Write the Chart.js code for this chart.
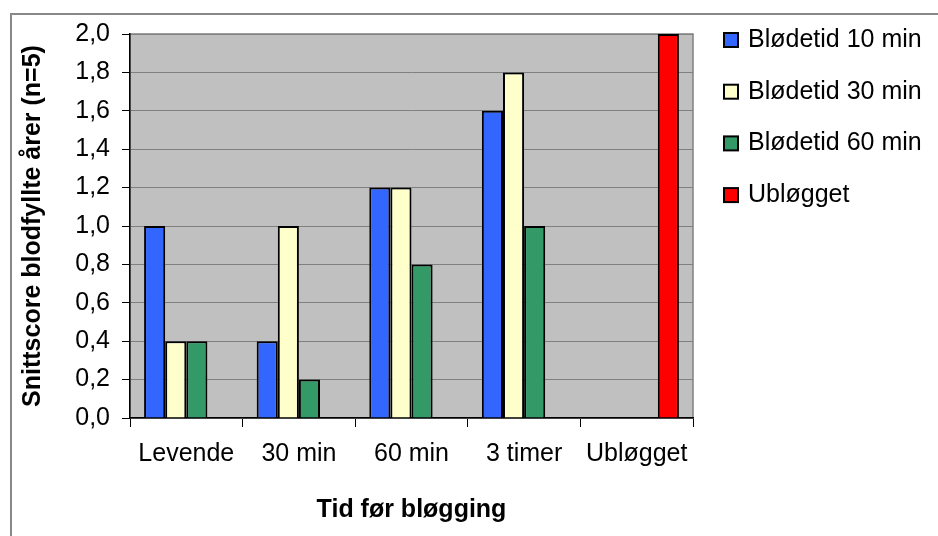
<!DOCTYPE html>
<html>
<head>
<meta charset="utf-8">
<script src="https://cdn.jsdelivr.net/npm/chart.js@4.4.1/dist/chart.umd.min.js"></script>
<style>
  body { margin: 0; background: #ffffff; }
  #wrap { width: 938px; height: 536px; }
</style>
</head>
<body>
<div id="wrap"><canvas id="score-chart" width="938" height="536"></canvas></div>
<script>
// Categories and series values
const categories = ['Levende', '30 min', '60 min', '3 timer', 'Ubløgget'];
const seriesNames = ['Blødetid 10 min', 'Blødetid 30 min', 'Blødetid 60 min', 'Ubløgget'];
const bleed10 = [1.0, 0.4, 1.2, 1.6, null];
const bleed30 = [0.4, 1.0, 1.2, 1.8, null];
const bleed60 = [0.4, 0.2, 0.8, 1.0, null];
const unbled = [null, null, null, null, 2.0];
const seriesColors = ['#3366FF', '#FFFFCC', '#339966', '#FF0000'];
const yMin = 0;
const yMax = 2;
const yStep = 0.2;

const FONT = '"Liberation Sans", Arial, sans-serif';

// Gray plot background, plot frame and the outer chart border
const backdrop = {
  id: 'backdrop',
  beforeDraw(chart) {
    const { ctx, chartArea: a } = chart;
    ctx.save();
    ctx.strokeStyle = '#888888';
    ctx.lineWidth = 2;
    ctx.beginPath();
    ctx.moveTo(11, 540);
    ctx.lineTo(11, 14);
    ctx.lineTo(940, 14);
    ctx.stroke();

    ctx.fillStyle = '#C0C0C0';
    ctx.fillRect(a.left, a.top, a.right - a.left, a.bottom - a.top);
    ctx.strokeStyle = '#808080';
    ctx.lineWidth = 1.5;
    ctx.strokeRect(a.left, a.top, a.right - a.left, a.bottom - a.top);
    ctx.restore();
  }
};

// Legend drawn to the right of the plot, one row per dataset
const sideLegend = {
  id: 'sideLegend',
  afterDraw(chart) {
    const { ctx } = chart;
    const x = 724, y0 = 40, gap = 51.7, box = 14;
    ctx.save();
    ctx.font = '25px ' + FONT;
    ctx.textBaseline = 'middle';
    ctx.textAlign = 'left';
    chart.data.datasets.forEach((ds, i) => {
      const y = y0 + i * gap;
      ctx.fillStyle = ds.backgroundColor;
      ctx.fillRect(x, y - box / 2, box, box);
      ctx.strokeStyle = '#000';
      ctx.lineWidth = 2;
      ctx.strokeRect(x, y - box / 2, box, box);
      ctx.fillStyle = '#000';
      ctx.fillText(ds.label, x + 24, y);
    });
    ctx.restore();
  }
};

const seriesData = [bleed10, bleed30, bleed60, unbled];

new Chart(document.getElementById('score-chart'), {
  type: 'bar',
  data: {
    labels: categories,
    datasets: seriesNames.map((name, i) => ({
      label: name,
      data: seriesData[i],
      backgroundColor: seriesColors[i],
      borderColor: '#000000',
      borderWidth: 2,
      categoryPercentage: 0.75,
      barPercentage: 1.0
    }))
  },
  options: {
    responsive: false,
    animation: false,
    layout: { padding: { left: 18, top: 34, right: 245, bottom: 0 } },
    plugins: {
      legend: { display: false },
      tooltip: { enabled: false }
    },
    scales: {
      x: {
        afterFit(scale) { scale.height = 118; },
        grid: {
          offset: true,
          drawOnChartArea: false,
          drawTicks: true,
          tickLength: 9,
          tickColor: '#000000'
        },
        border: { color: '#000000', width: 1.5 },
        ticks: {
          color: '#000000',
          padding: 12,
          font: { family: FONT, size: 25 },
          maxRotation: 0
        },
        title: {
          display: true,
          text: 'Tid før bløgging',
          color: '#000000',
          font: { family: FONT, size: 25, weight: 'bold' },
          padding: { top: 0, bottom: 11 }
        }
      },
      y: {
        min: yMin,
        max: yMax,
        afterFit(scale) { scale.width = 112; },
        grid: {
          color: '#808080',
          lineWidth: 1,
          drawTicks: true,
          tickLength: 8,
          tickColor: '#000000'
        },
        border: { color: '#000000', width: 1.5 },
        ticks: {
          stepSize: yStep,
          color: '#000000',
          padding: 12,
          font: { family: FONT, size: 25 },
          callback: (v) => v.toFixed(1).replace('.', ',')
        },
        title: {
          display: true,
          text: 'Snittscore blodfyllte årer (n=5)',
          color: '#000000',
          font: { family: FONT, size: 25, weight: 'bold' },
          padding: 0
        }
      }
    }
  },
  plugins: [backdrop, sideLegend]
});
</script>
</body>
</html>
